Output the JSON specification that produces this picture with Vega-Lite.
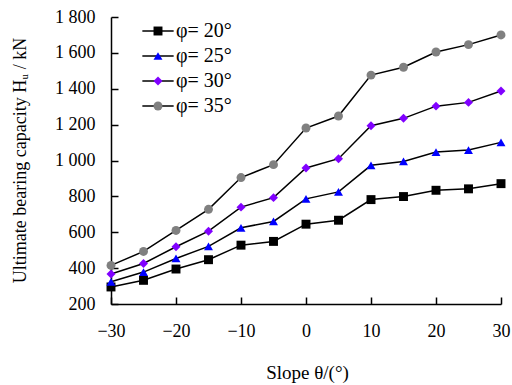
{
  "$schema": "https://vega.github.io/schema/vega-lite/v6.json",
  "width": 390,
  "height": 287,
  "autosize": {"type": "none"},
  "padding": {"left": 111, "top": 17, "right": 11, "bottom": 81},
  "background": "white",
  "config": {
    "view": {"stroke": null},
    "font": "Liberation Serif",
    "axis": {
      "grid": false,
      "domainColor": "black",
      "domainWidth": 1.5,
      "tickColor": "black",
      "tickWidth": 1.5,
      "tickSize": -7,
      "labelFont": "Liberation Serif",
      "labelFontSize": 18,
      "labelColor": "black",
      "titleFont": "Liberation Serif",
      "titleFontSize": 18,
      "titleFontWeight": "normal",
      "titleColor": "black"
    },
    "legend": {
      "labelFont": "Liberation Serif",
      "labelFontSize": 20,
      "labelColor": "black",
      "padding": 0,
      "rowPadding": 5,
      "labelOffset": 8
    }
  },
  "data": {
    "values": [
      {"theta": -30, "phi": "φ= 20°", "H": 295},
      {"theta": -25, "phi": "φ= 20°", "H": 332},
      {"theta": -20, "phi": "φ= 20°", "H": 395},
      {"theta": -15, "phi": "φ= 20°", "H": 447},
      {"theta": -10, "phi": "φ= 20°", "H": 528},
      {"theta": -5, "phi": "φ= 20°", "H": 549},
      {"theta": 0, "phi": "φ= 20°", "H": 645},
      {"theta": 5, "phi": "φ= 20°", "H": 667},
      {"theta": 10, "phi": "φ= 20°", "H": 782},
      {"theta": 15, "phi": "φ= 20°", "H": 799},
      {"theta": 20, "phi": "φ= 20°", "H": 834},
      {"theta": 25, "phi": "φ= 20°", "H": 842},
      {"theta": 30, "phi": "φ= 20°", "H": 871},
      {"theta": -30, "phi": "φ= 25°", "H": 324},
      {"theta": -25, "phi": "φ= 25°", "H": 378},
      {"theta": -20, "phi": "φ= 25°", "H": 454},
      {"theta": -15, "phi": "φ= 25°", "H": 521},
      {"theta": -10, "phi": "φ= 25°", "H": 625},
      {"theta": -5, "phi": "φ= 25°", "H": 660},
      {"theta": 0, "phi": "φ= 25°", "H": 786},
      {"theta": 5, "phi": "φ= 25°", "H": 825},
      {"theta": 10, "phi": "φ= 25°", "H": 973},
      {"theta": 15, "phi": "φ= 25°", "H": 995},
      {"theta": 20, "phi": "φ= 25°", "H": 1047},
      {"theta": 25, "phi": "φ= 25°", "H": 1058},
      {"theta": 30, "phi": "φ= 25°", "H": 1101},
      {"theta": -30, "phi": "φ= 30°", "H": 367},
      {"theta": -25, "phi": "φ= 30°", "H": 426},
      {"theta": -20, "phi": "φ= 30°", "H": 519},
      {"theta": -15, "phi": "φ= 30°", "H": 606},
      {"theta": -10, "phi": "φ= 30°", "H": 740},
      {"theta": -5, "phi": "φ= 30°", "H": 793},
      {"theta": 0, "phi": "φ= 30°", "H": 958},
      {"theta": 5, "phi": "φ= 30°", "H": 1010},
      {"theta": 10, "phi": "φ= 30°", "H": 1194},
      {"theta": 15, "phi": "φ= 30°", "H": 1235},
      {"theta": 20, "phi": "φ= 30°", "H": 1303},
      {"theta": 25, "phi": "φ= 30°", "H": 1324},
      {"theta": 30, "phi": "φ= 30°", "H": 1387},
      {"theta": -30, "phi": "φ= 35°", "H": 415},
      {"theta": -25, "phi": "φ= 35°", "H": 493},
      {"theta": -20, "phi": "φ= 35°", "H": 610},
      {"theta": -15, "phi": "φ= 35°", "H": 728},
      {"theta": -10, "phi": "φ= 35°", "H": 905},
      {"theta": -5, "phi": "φ= 35°", "H": 977},
      {"theta": 0, "phi": "φ= 35°", "H": 1181},
      {"theta": 5, "phi": "φ= 35°", "H": 1248},
      {"theta": 10, "phi": "φ= 35°", "H": 1476},
      {"theta": 15, "phi": "φ= 35°", "H": 1520},
      {"theta": 20, "phi": "φ= 35°", "H": 1605},
      {"theta": 25, "phi": "φ= 35°", "H": 1646},
      {"theta": 30, "phi": "φ= 35°", "H": 1700}
    ]
  },
  "encoding": {
    "x": {
      "field": "theta",
      "type": "quantitative",
      "scale": {"domain": [-30, 30], "nice": false, "zero": false},
      "axis": {
        "values": [-30, -20, -10, 0, 10, 20, 30],
        "labelPadding": 25,
        "title": "Slope θ/(°)",
        "titleFontSize": 19,
        "titleX": 196,
        "titleY": 68,
        "titleBaseline": "middle",
        "labelFlush": false
      }
    },
    "y": {
      "field": "H",
      "type": "quantitative",
      "scale": {"domain": [200, 1800], "nice": false, "zero": false},
      "axis": {
        "values": [200, 400, 600, 800, 1000, 1200, 1400, 1600, 1800],
        "labelExpr": "replace(format(datum.value, ','), ',', ' ')",
        "labelPadding": 23,
        "title": "Ultimate bearing capacity Hᵤ / kN",
        "titleX": -91,
        "titleY": 143,
        "titleBaseline": "middle",
        "titleAngle": -90,
        "labelFlush": false
      }
    }
  },
  "layer": [
    {
      "mark": {"type": "line", "strokeWidth": 1.5},
      "encoding": {
        "stroke": {
          "field": "phi",
          "type": "nominal",
          "scale": {"range": ["black", "black", "black", "black"]},
          "legend": {
            "orient": "none",
            "legendX": 37,
            "legendY": 4,
            "title": null,
            "symbolType": "M-3.5,0H3.5",
            "symbolSize": 80,
            "symbolStrokeWidth": 1.5,
            "labelOpacity": 0,
            "zindex": 0
          }
        }
      }
    },
    {
      "mark": {"type": "point", "filled": true, "size": 80, "opacity": 1, "strokeWidth": 0},
      "encoding": {
        "color": {
          "field": "phi",
          "type": "nominal",
          "scale": {"range": ["#000000", "#0000FF", "#8000FF", "#808080"]},
          "legend": {
            "orient": "none",
            "legendX": 37,
            "legendY": 4,
            "title": null,
            "symbolSize": 80,
            "symbolStrokeWidth": 0,
            "zindex": 1
          }
        },
        "shape": {
          "field": "phi",
          "type": "nominal",
          "scale": {"range": ["square", "triangle-up", "diamond", "circle"]},
          "legend": {
            "orient": "none",
            "legendX": 37,
            "legendY": 4,
            "title": null,
            "symbolSize": 80,
            "symbolStrokeWidth": 0,
            "zindex": 1
          }
        }
      }
    }
  ]
}
